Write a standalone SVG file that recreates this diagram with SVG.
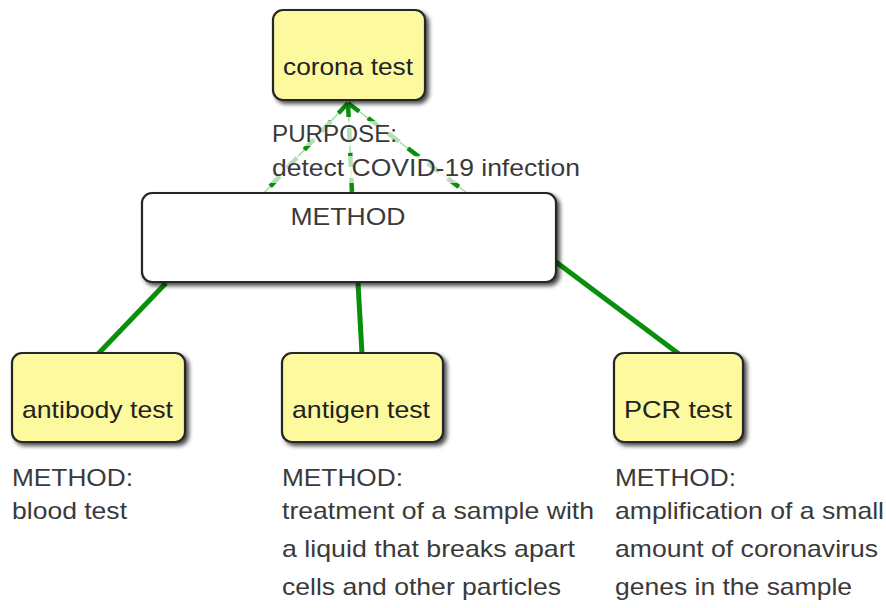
<svg xmlns="http://www.w3.org/2000/svg" width="886" height="608" viewBox="0 0 886 608">
  <defs>
    <filter id="shadow" x="-10%" y="-10%" width="125%" height="130%">
      <feDropShadow dx="3" dy="3" stdDeviation="2.2" flood-color="#000" flood-opacity="0.7"/>
    </filter>
  </defs>
  <style>
    .node { fill: #fdf99f; stroke: #262626; stroke-width: 2.2; filter: url(#shadow); }
    .white { fill: #ffffff; stroke: #262626; stroke-width: 2.2; filter: url(#shadow); }
    .ntext { font-family: "Liberation Sans", Arial, sans-serif; font-size: 24px; fill: #222; }
    .ltext { font-family: "Liberation Sans", Arial, sans-serif; font-size: 24px; fill: #3a3a3a; }
    .solid { stroke: #0a8f0a; stroke-width: 5; fill: none; stroke-linecap: butt; }
    .dash { stroke: #0a8f0a; stroke-width: 4.5; fill: none; stroke-dasharray: 14 11; }
    .faint { stroke: #9fdc9f; stroke-width: 1.5; fill: none; }
    .lblbg { fill: #ffffff; fill-opacity: 0.7; }
  </style>
  <rect width="886" height="608" fill="#ffffff"/>

  <g id="connectors">
    <line class="faint" x1="264" y1="193" x2="348" y2="103"/>
    <line class="faint" x1="352" y1="193" x2="348" y2="103"/>
    <line class="faint" x1="467" y1="193" x2="348" y2="103"/>
    <line class="dash" x1="348" y1="103" x2="264" y2="193"/>
    <line class="dash" x1="348" y1="103" x2="352" y2="193"/>
    <line class="dash" x1="348" y1="103" x2="467" y2="193"/>
    <line class="solid" x1="166" y1="283" x2="98" y2="354"/>
    <line class="solid" x1="358" y1="283" x2="362" y2="354"/>
    <line class="solid" x1="556" y1="262" x2="679" y2="354"/>
  </g>

  <g id="purpose-label">
    <rect class="lblbg" x="270" y="121" width="130" height="25"/>
    <rect class="lblbg" x="270" y="156" width="312" height="27"/>
    <text class="ltext" x="272" y="142" textLength="125" lengthAdjust="spacingAndGlyphs">PURPOSE:</text>
    <text class="ltext" x="272" y="176" textLength="308" lengthAdjust="spacingAndGlyphs">detect COVID-19 infection</text>
  </g>

  <g id="node-corona-test">
    <rect class="node" x="273" y="10" width="152" height="90" rx="10"/>
    <text class="ntext" x="283" y="75" textLength="130" lengthAdjust="spacingAndGlyphs">corona test</text>
  </g>

  <g id="node-method">
    <rect class="white" x="142" y="193" width="414" height="89" rx="10"/>
    <text class="ltext" x="348" y="225" text-anchor="middle" textLength="115" lengthAdjust="spacingAndGlyphs">METHOD</text>
  </g>

  <g id="node-antibody-test">
    <rect class="node" x="12" y="353" width="173" height="89" rx="10"/>
    <text class="ntext" x="22" y="418" textLength="151" lengthAdjust="spacingAndGlyphs">antibody test</text>
  </g>

  <g id="node-antigen-test">
    <rect class="node" x="282" y="353" width="161" height="89" rx="10"/>
    <text class="ntext" x="292" y="418" textLength="138" lengthAdjust="spacingAndGlyphs">antigen test</text>
  </g>

  <g id="node-pcr-test">
    <rect class="node" x="614" y="353" width="129" height="89" rx="10"/>
    <text class="ntext" x="624" y="418" textLength="108" lengthAdjust="spacingAndGlyphs">PCR test</text>
  </g>

  <g id="antibody-method-label">
    <text class="ltext" x="12" y="486" textLength="121" lengthAdjust="spacingAndGlyphs">METHOD:</text>
    <text class="ltext" x="12" y="519" textLength="115" lengthAdjust="spacingAndGlyphs">blood test</text>
  </g>

  <g id="antigen-method-label">
    <text class="ltext" x="282" y="486" textLength="121" lengthAdjust="spacingAndGlyphs">METHOD:</text>
    <text class="ltext" x="282" y="519" textLength="312" lengthAdjust="spacingAndGlyphs">treatment of a sample with</text>
    <text class="ltext" x="282" y="557" textLength="293" lengthAdjust="spacingAndGlyphs">a liquid that breaks apart</text>
    <text class="ltext" x="282" y="595" textLength="279" lengthAdjust="spacingAndGlyphs">cells and other particles</text>
  </g>

  <g id="pcr-method-label">
    <text class="ltext" x="615" y="486" textLength="121" lengthAdjust="spacingAndGlyphs">METHOD:</text>
    <text class="ltext" x="615" y="519" textLength="269" lengthAdjust="spacingAndGlyphs">amplification of a small</text>
    <text class="ltext" x="615" y="557" textLength="263" lengthAdjust="spacingAndGlyphs">amount of coronavirus</text>
    <text class="ltext" x="615" y="595" textLength="237" lengthAdjust="spacingAndGlyphs">genes in the sample</text>
  </g>
</svg>
